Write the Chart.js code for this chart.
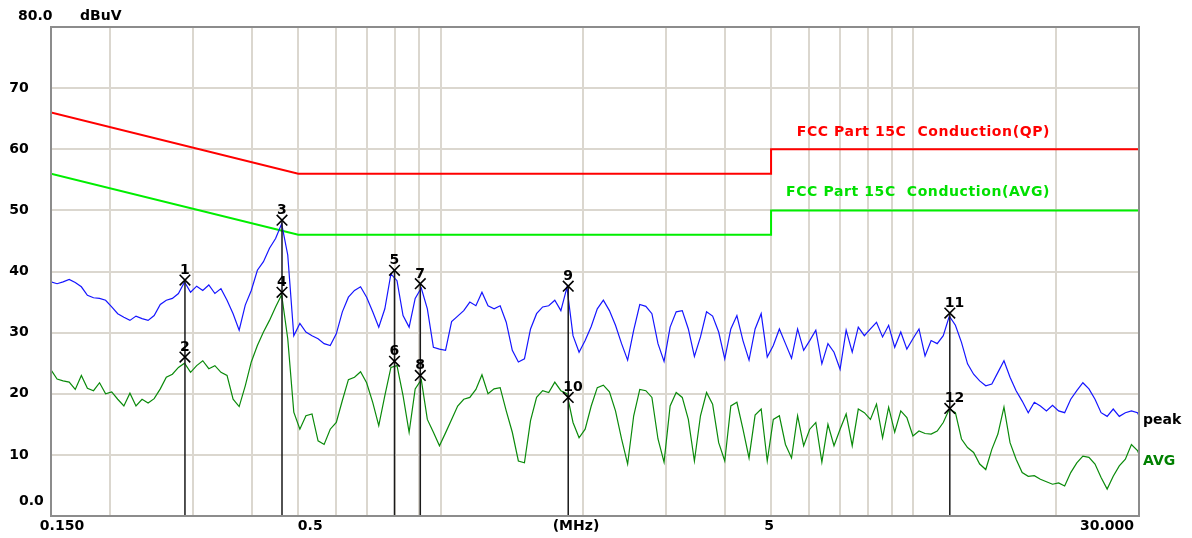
<!DOCTYPE html>
<html>
<head>
<meta charset="utf-8">
<script src="https://cdn.jsdelivr.net/npm/chart.js@4.4.1/dist/chart.umd.min.js"></script>
<style>
  html, body { margin: 0; padding: 0; background: #fff; }
  #wrap { width: 1192px; height: 538px; }
</style>
</head>
<body>
<div id="wrap"><canvas id="emi" width="1192" height="538"></canvas></div>
<script>
// sweep frequencies (MHz), shared by both traces
const freqMHz = [0.15,0.1545,0.1591,0.1639,0.1688,0.1739,0.1791,0.1845,0.19,0.1957,
  0.2016,0.2076,0.2139,0.2203,0.2269,0.2337,0.2407,0.2479,0.2554,0.263,
  0.2709,0.279,0.2874,0.296,0.3049,0.3141,0.3235,0.3332,0.3432,0.3535,
  0.3641,0.375,0.3863,0.3978,0.4098,0.4221,0.4347,0.4478,0.4612,0.4751,
  0.4893,0.504,0.5191,0.5347,0.5507,0.5672,0.5843,0.6018,0.6198,0.6384,
  0.6576,0.6773,0.6976,0.7186,0.7401,0.7623,0.7852,0.8088,0.833,0.858,
  0.8837,0.9103,0.9376,0.9657,0.9947,1.0245,1.0552,1.0869,1.1195,1.1531,
  1.1877,1.2233,1.26,1.2978,1.3367,1.3768,1.4181,1.4607,1.5045,1.5497,
  1.5961,1.644,1.6933,1.7441,1.7965,1.8504,1.9059,1.963,2.0219,2.0826,
  2.1451,2.2094,2.2757,2.344,2.4143,2.4867,2.5613,2.6382,2.7173,2.7988,
  2.8828,2.9693,3.0584,3.1501,3.2446,3.342,3.4422,3.5455,3.6519,3.7614,
  3.8742,3.9905,4.1102,4.2335,4.3605,4.4913,4.6261,4.7648,4.9078,5.055,
  5.2067,5.3629,5.5238,5.6895,5.8602,6.036,6.217,6.4035,6.5957,6.7935,
  6.9973,7.2072,7.4235,7.6462,7.8756,8.1118,8.3552,8.6058,8.864,9.1299,
  9.4038,9.686,9.9765,10.2758,10.5841,10.9016,11.2287,11.5655,11.9125,12.2699,
  12.638,13.0171,13.4076,13.8098,14.2241,14.6509,15.0904,15.5431,16.0094,16.4897,
  16.9844,17.4939,18.0187,18.5593,19.1161,19.6895,20.2802,20.8886,21.5153,22.1608,
  22.8256,23.5103,24.2157,24.9421,25.6904,26.4611,27.2549,28.0726,28.9148,29.7822,30.0];

// peak detector trace (dBuV)
const peakDb = [38.3,38.0,38.3,38.7,38.2,37.5,36.1,35.7,35.6,35.3,
  34.2,33.1,32.5,32.0,32.7,32.3,32.0,32.8,34.6,35.3,
  35.6,36.4,38.3,36.6,37.6,36.9,37.8,36.4,37.2,35.3,
  33.1,30.4,34.5,36.9,40.2,41.6,43.8,45.4,47.8,42.7,
  29.5,31.5,30.1,29.5,29.0,28.2,27.9,29.8,33.4,35.8,
  36.9,37.5,35.8,33.4,30.9,33.9,39.6,38.5,32.8,30.9,
  35.6,37.3,33.9,27.6,27.3,27.1,31.8,32.7,33.6,35.0,
  34.4,36.6,34.4,33.9,34.4,31.7,27.1,25.2,25.7,30.6,
  33.1,34.2,34.4,35.3,33.6,37.4,29.5,26.8,28.7,31.0,
  33.9,35.3,33.6,31.2,28.2,25.5,30.4,34.6,34.3,33.1,
  28.2,25.3,30.9,33.4,33.6,30.6,26.1,29.3,33.4,32.7,
  30.1,25.7,30.6,32.8,28.7,25.5,30.6,33.1,26.0,27.9,
  30.6,28.2,25.8,30.6,27.1,28.7,30.4,24.9,28.2,26.8,
  24.0,30.4,26.8,30.9,29.5,30.6,31.7,29.3,31.2,27.6,
  30.1,27.3,29.0,30.6,26.2,28.7,28.2,29.5,32.7,31.2,
  28.4,24.9,23.2,22.1,21.3,21.6,23.5,25.4,22.7,20.5,
  18.8,16.9,18.6,18.0,17.2,18.1,17.2,16.9,19.1,20.5,
  21.8,20.8,19.1,16.9,16.3,17.5,16.3,16.9,17.2,16.9,16.4];

// average detector trace (dBuV)
const avgDb = [23.9,22.4,22.1,21.9,20.7,23.0,20.9,20.5,21.8,20.0,
  20.3,19.1,18.0,20.1,18.0,19.1,18.5,19.2,20.8,22.7,
  23.2,24.3,25.0,23.5,24.6,25.4,24.1,24.6,23.5,23.0,
  19.1,17.9,21.3,25.2,27.9,30.1,32.0,34.2,36.2,29.0,
  17.0,14.2,16.4,16.7,12.3,11.7,14.2,15.3,18.9,22.3,
  22.7,23.6,21.8,18.6,14.8,19.7,24.3,24.6,19.7,13.7,
  20.8,22.3,15.8,13.7,11.5,13.6,15.8,18.0,19.1,19.4,
  20.7,23.1,20.0,20.8,21.0,17.2,13.7,9.0,8.7,15.6,
  19.4,20.5,20.2,21.9,20.5,20.0,15.3,12.8,14.2,18.0,
  21.0,21.4,20.3,17.2,12.6,8.5,16.4,20.7,20.5,19.4,
  12.6,8.8,18.0,20.2,19.4,15.8,9.0,16.4,20.2,18.3,
  12.0,9.0,18.0,18.6,14.2,9.5,16.5,17.5,9.0,15.8,
  16.4,11.7,9.5,16.4,11.5,14.2,15.3,8.8,15.0,11.5,
  14.2,16.7,11.5,17.5,16.9,15.8,18.3,12.8,17.8,13.7,
  17.2,16.1,13.1,13.9,13.5,13.4,13.9,15.3,17.5,16.9,
  12.6,11.2,10.4,8.5,7.6,10.9,13.4,17.8,12.0,9.3,
  7.1,6.5,6.6,6.0,5.6,5.2,5.4,4.9,7.1,8.7,
  9.8,9.6,8.5,6.3,4.4,6.5,8.2,9.3,11.7,10.7,10.1];

// FCC Part 15C limits
const qpLimitFreq = [0.15, 0.5, 5, 5, 30];
const qpLimitDb   = [66, 56, 56, 60, 60];
const avgLimitFreq = [0.15, 0.5, 5, 5, 30];
const avgLimitDb   = [56, 46, 46, 50, 50];

// markers
const markerNo    = ["1","2","3","4","5","6","7","8","9","10","11","12"];
const markerFreq  = [0.288,0.288,0.462,0.462,0.799,0.799,0.906,0.906,1.862,1.862,11.94,11.94];
const markerLevel = [38.6,26.0,48.4,36.6,40.2,25.3,38.0,23.0,37.6,19.4,33.2,17.6];

// axes
const gridFreqs = [0.2,0.3,0.4,0.5,0.6,0.7,0.8,0.9,1,2,3,4,5,6,7,8,9,10,20];
const xTickValues = [0.15, 0.5, 5, 30];
const xTickLabels = ["0.150", "0.5", "5", "30.000"];
const yTickValues = [10, 20, 30, 40, 50, 60, 70];
const yTickLabels = ["10", "20", "30", "40", "50", "60", "70"];

const toXY = (xs, ys) => xs.map((v, i) => ({ x: v, y: ys[i] }));

// vertical marker lines: from the upper marker of each pair down to 0
const markerLines = [];
for (let i = 0; i < markerFreq.length; i += 2) {
  const top = Math.max(markerLevel[i], markerLevel[i + 1]);
  markerLines.push({ x: markerFreq[i], y: 0 }, { x: markerFreq[i], y: top }, { x: markerFreq[i], y: null });
}

const BOLD = '"DejaVu Sans", "Liberation Sans", sans-serif';

const textPlugin = {
  id: "emiText",
  afterDraw(chart) {
    const ctx = chart.ctx;
    const xs = chart.scales.x, ys = chart.scales.y;
    const a = chart.chartArea;
    ctx.save();
    // frame
    ctx.strokeStyle = "#8c8c8c";
    ctx.lineWidth = 2;
    ctx.strokeRect(a.left, a.top, a.right - a.left, a.bottom - a.top);

    ctx.fillStyle = "#000";
    ctx.font = "bold 14px " + BOLD;
    ctx.textBaseline = "middle";
    // y ticks
    ctx.textAlign = "center";
    yTickValues.forEach((v, i) => ctx.fillText(yTickLabels[i], 19, ys.getPixelForValue(v)));
    ctx.textAlign = "left";
    ctx.fillText("80.0", 18, a.top - 11);
    ctx.fillText("dBuV", 80, a.top - 11);
    ctx.fillText("0.0", 19, a.bottom - 15);
    // x ticks
    ctx.textAlign = "center";
    const xOff = [11, 12, -2, -32];
    xTickValues.forEach((v, i) => ctx.fillText(xTickLabels[i], xs.getPixelForValue(v) + xOff[i], a.bottom + 10));
    ctx.fillText("(MHz)", 576, a.bottom + 10);
    // trace names
    ctx.textAlign = "left";
    ctx.fillText("peak", a.right + 4, ys.getPixelForValue(15.6));
    ctx.fillStyle = "#008000";
    ctx.fillText("AVG", a.right + 4, ys.getPixelForValue(9.0));
    // limit names
    if ("letterSpacing" in ctx) ctx.letterSpacing = "0.6px";
    ctx.textAlign = "right";
    ctx.fillStyle = "#ff0000";
    ctx.fillText("FCC Part 15C  Conduction(QP)", 1050, ys.getPixelForValue(62.7));
    ctx.fillStyle = "#00e000";
    ctx.fillText("FCC Part 15C  Conduction(AVG)", 1050, ys.getPixelForValue(52.9));
    if ("letterSpacing" in ctx) ctx.letterSpacing = "0px";

    // marker numbers
    const meta = chart.getDatasetMeta(0);
    ctx.fillStyle = "#000";
    ctx.textAlign = "left";
    ctx.textBaseline = "alphabetic";
    ctx.font = "bold 14px " + BOLD;
    meta.data.forEach((pt, i) => {
      ctx.fillText(markerNo[i], pt.x - 5, pt.y - 6);
    });
    ctx.restore();
  }
};

new Chart(document.getElementById("emi"), {
  type: "line",
  data: {
    datasets: [
      {
        label: "markers",
        data: toXY(markerFreq, markerLevel),
        showLine: false,
        pointStyle: "crossRot",
        pointRadius: 7.5,
        borderColor: "#000",
        pointBorderWidth: 1.6,
        backgroundColor: "#000",
      },
      {
        label: "marker lines",
        data: markerLines,
        borderColor: "#1a1a1a",
        borderWidth: 1.5,
        pointRadius: 0,
        spanGaps: false,
      },
      {
        label: "peak",
        data: toXY(freqMHz, peakDb),
        borderColor: "#1515ff",
        borderWidth: 1.2,
        pointRadius: 0,
      },
      {
        label: "AVG",
        data: toXY(freqMHz, avgDb),
        borderColor: "#0a8a0a",
        borderWidth: 1.2,
        pointRadius: 0,
      },
      {
        label: "FCC Part 15C Conduction(QP)",
        data: toXY(qpLimitFreq, qpLimitDb),
        borderColor: "#ff0000",
        borderWidth: 2,
        pointRadius: 0,
      },
      {
        label: "FCC Part 15C Conduction(AVG)",
        data: toXY(avgLimitFreq, avgLimitDb),
        borderColor: "#00ee00",
        borderWidth: 2,
        pointRadius: 0,
      },
    ],
  },
  options: {
    responsive: false,
    devicePixelRatio: 1,
    animation: false,
    layout: { padding: { left: 0, top: 27, right: 53, bottom: 0 } },
    plugins: { legend: { display: false }, tooltip: { enabled: false } },
    elements: { line: { tension: 0 } },
    scales: {
      x: {
        type: "logarithmic",
        min: 0.15,
        max: 30,
        afterBuildTicks: (s) => { s.ticks = gridFreqs.map((v) => ({ value: v })); },
        afterFit: (s) => { s.height = 22; },
        ticks: { display: false },
        grid: { color: "#dbd7cf", lineWidth: 2, drawTicks: false },
        border: { display: false },
      },
      y: {
        min: 0,
        max: 80,
        afterBuildTicks: (s) => { s.ticks = [0, 10, 20, 30, 40, 50, 60, 70, 80].map((v) => ({ value: v })); },
        afterFit: (s) => { s.width = 51; },
        ticks: { display: false },
        grid: { color: "#dbd7cf", lineWidth: 2, drawTicks: false },
        border: { display: false },
      },
    },
  },
  plugins: [textPlugin],
});
</script>
</body>
</html>
